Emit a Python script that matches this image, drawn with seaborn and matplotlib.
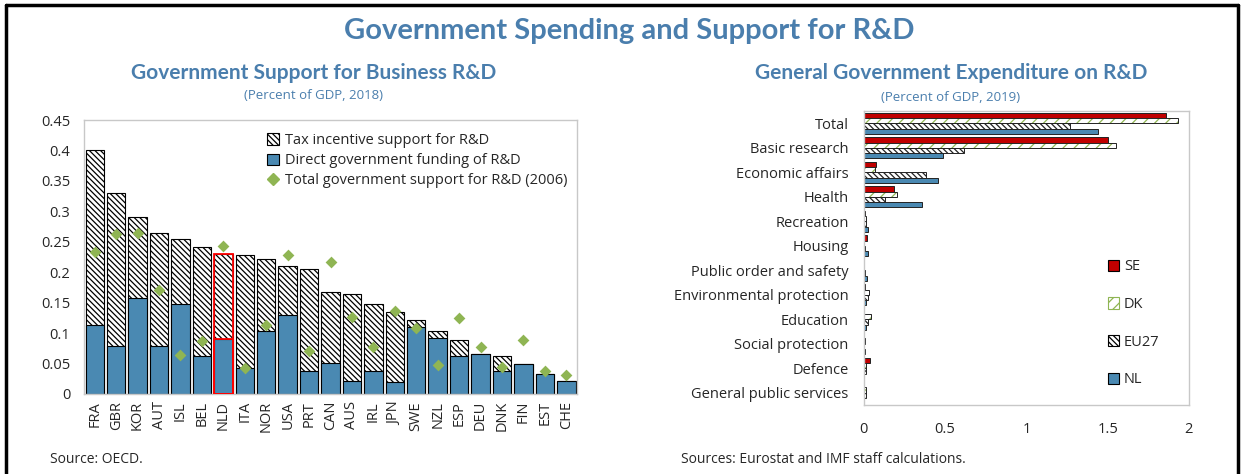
import matplotlib
matplotlib.use("Agg")
import matplotlib.pyplot as plt
from matplotlib.patches import Patch, Rectangle
from matplotlib.lines import Line2D
import seaborn as sns
import pandas as pd

# ---- dados: painel esquerdo (OECD, 2018)
paises = ['FRA', 'GBR', 'KOR', 'AUT', 'ISL', 'BEL', 'NLD', 'ITA', 'NOR', 'USA', 'PRT', 'CAN',
          'AUS', 'IRL', 'JPN', 'SWE', 'NZL', 'ESP', 'DEU', 'DNK', 'FIN', 'EST', 'CHE']
direto = [0.114, 0.079, 0.157, 0.079, 0.147, 0.062, 0.090, 0.043, 0.104, 0.129, 0.038, 0.051,
          0.022, 0.038, 0.020, 0.110, 0.092, 0.062, 0.066, 0.038, 0.049, 0.033, 0.022]
incentivo = [0.287, 0.251, 0.133, 0.186, 0.107, 0.179, 0.140, 0.185, 0.117, 0.081, 0.168, 0.117,
             0.143, 0.109, 0.115, 0.012, 0.012, 0.027, 0.0, 0.025, 0.0, 0.0, 0.0]
total_2006 = [0.234, 0.263, 0.265, 0.170, 0.064, 0.087, 0.243, 0.043, 0.114, 0.229, 0.071, 0.216,
              0.126, 0.078, 0.136, 0.109, 0.048, 0.125, 0.077, 0.045, 0.088, 0.037, 0.031]

# ---- dados: painel direito (Eurostat, 2019)
funcoes = ['Total', 'Basic research', 'Economic affairs', 'Health', 'Recreation', 'Housing',
           'Public order and safety', 'Environmental protection', 'Education',
           'Social protection', 'Defence', 'General public services']
se = [1.86, 1.50, 0.074, 0.185, 0.005, 0.020, 0.003, 0.005, 0.003, 0.003, 0.040, 0.0]
dk = [1.93, 1.55, 0.070, 0.204, 0.015, 0.0, 0.003, 0.030, 0.045, 0.005, 0.015, 0.010]
eu27 = [1.27, 0.615, 0.380, 0.130, 0.010, 0.005, 0.005, 0.025, 0.025, 0.003, 0.010, 0.010]
nl = [1.44, 0.485, 0.455, 0.356, 0.028, 0.025, 0.020, 0.015, 0.010, 0.005, 0.002, 0.002]
grupos = ['SE', 'DK', 'EU27', 'NL']

AZUL = '#4A89B2'
VERDE = '#8FB553'
VERMELHO = '#C00000'
TITULO = '#4A7EAD'
CINZA = '#C8C8C8'
HACHURA = '\\' * 6

sns.set_style("white")
plt.rcParams['font.family'] = ['Open Sans', 'DejaVu Sans']
plt.rcParams['hatch.linewidth'] = 0.9

fig = plt.figure(figsize=(12.43, 4.74), dpi=100)

# ---- painel esquerdo
ax1 = fig.add_axes([0.0676, 0.1688, 0.3966, 0.578])
df1 = pd.DataFrame({'pais': paises, 'direto': direto, 'incentivo': incentivo, 'ant': total_2006})
df1['total'] = df1['direto'] + df1['incentivo']

sns.barplot(data=df1, x='pais', y='total', color='white', saturation=1, width=0.86,
            edgecolor='black', linewidth=0.8, hatch=HACHURA, ax=ax1)
sns.barplot(data=df1, x='pais', y='direto', color=AZUL, saturation=1, width=0.86,
            edgecolor='black', linewidth=0.8, ax=ax1)
sns.stripplot(data=df1, x='pais', y='ant', jitter=False, marker='D', color=VERDE, size=6,
              linewidth=0, ax=ax1, zorder=5)

# destaque NLD: contorno vermelho por cima (a hachura continua preta)
i_nld = paises.index('NLD')
for cont in ax1.containers:
    p = cont.patches[i_nld]
    ax1.add_patch(Rectangle(p.get_xy(), p.get_width(), p.get_height(), fill=False,
                            edgecolor='red', lw=1.3, zorder=4))

ax1.set_xlim(-0.5, len(paises) - 0.5)
ax1.set_ylim(0, 0.45)
ax1.set_yticks([0, 0.05, 0.1, 0.15, 0.2, 0.25, 0.3, 0.35, 0.4, 0.45])
ax1.set_yticklabels(['0', '0.05', '0.1', '0.15', '0.2', '0.25', '0.3', '0.35', '0.4', '0.45'])
ax1.set_xlabel('')
ax1.set_ylabel('')
ax1.tick_params(axis='x', labelrotation=90, labelsize=10.5, length=0, pad=5)
ax1.tick_params(axis='y', labelsize=10.5, length=0, pad=10)
for s in ax1.spines.values():
    s.set_color(CINZA)
    s.set_linewidth(1)

h1 = [Patch(facecolor='white', edgecolor='black', hatch=HACHURA, lw=0.8),
      Patch(facecolor=AZUL, edgecolor='black', lw=0.8),
      Line2D([], [], marker='D', color=VERDE, ls='', markersize=6)]
ax1.legend(h1, ['Tax incentive support for R&D', 'Direct government funding of R&D',
                'Total government support for R&D (2006)'],
           loc='upper left', bbox_to_anchor=(0.345, 1.0), frameon=False, fontsize=10.5,
           handlelength=0.8, handleheight=0.8, handletextpad=0.4, labelspacing=0.35)

# ---- painel direito
ax2 = fig.add_axes([0.695, 0.1456, 0.2615, 0.620])
df2 = pd.DataFrame({'funcao': funcoes, 'SE': se, 'DK': dk, 'EU27': eu27, 'NL': nl})
df2 = df2.melt(id_vars='funcao', var_name='grupo', value_name='valor')

sns.barplot(data=df2, y='funcao', x='valor', hue='grupo', hue_order=grupos, orient='h',
            palette={'SE': VERMELHO, 'DK': 'white', 'EU27': 'white', 'NL': AZUL},
            saturation=1, width=0.86, edgecolor='#222222', linewidth=0.7, ax=ax2, legend=False)

for g, cont in zip(grupos, ax2.containers):
    for p in cont.patches:
        if g == 'DK':
            p.set_hatch('///')
            p.set_edgecolor(VERDE)
            p.set_linewidth(0)
            ax2.add_patch(Rectangle(p.get_xy(), p.get_width(), p.get_height(), fill=False,
                                    edgecolor='#222222', lw=0.7, zorder=p.get_zorder() + 0.1))
        elif g == 'EU27':
            p.set_hatch(HACHURA)

ax2.set_xlim(0, 2)
ax2.set_ylim(len(funcoes) - 0.5, -0.5)
ax2.set_xticks([0, 0.5, 1, 1.5, 2])
ax2.set_xticklabels(['0', '0.5', '1', '1.5', '2'])
ax2.set_xlabel('')
ax2.set_ylabel('')
ax2.tick_params(axis='x', labelsize=10.5, direction='in', length=4, color=CINZA, pad=12)
ax2.tick_params(axis='y', labelsize=10.5, length=0, pad=11)
for s in ax2.spines.values():
    s.set_color(CINZA)
    s.set_linewidth(1)

h2 = [Patch(facecolor=VERMELHO, edgecolor='black', lw=0.8),
      Patch(facecolor='white', edgecolor=VERDE, hatch='///', lw=0.8),
      Patch(facecolor='white', edgecolor='black', hatch=HACHURA, lw=0.8),
      Patch(facecolor=AZUL, edgecolor='black', lw=0.8)]
ax2.legend(h2, grupos, loc='upper left', bbox_to_anchor=(0.71, 0.54), frameon=False,
           fontsize=10.5, handlelength=0.8, handleheight=0.8, handletextpad=0.3,
           labelspacing=1.55)

# ---- títulos e fontes
fig.text(0.506, 0.935, 'Government Spending and Support for R&D', ha='center', va='center',
         fontsize=21, fontweight='bold', color=TITULO, family=['Lato', 'DejaVu Sans'])
fig.text(0.252, 0.845, 'Government Support for Business R&D', ha='center', va='center',
         fontsize=15, fontweight='bold', color=TITULO, family=['Lato', 'DejaVu Sans'])
fig.text(0.252, 0.798, '(Percent of GDP, 2018)', ha='center', va='center',
         fontsize=9.5, color=TITULO)
fig.text(0.765, 0.845, 'General Government Expenditure on R&D', ha='center', va='center',
         fontsize=15, fontweight='bold', color=TITULO, family=['Lato', 'DejaVu Sans'])
fig.text(0.765, 0.795, '(Percent of GDP, 2019)', ha='center', va='center',
         fontsize=9.5, color=TITULO)
fig.text(0.040, 0.030, 'Source: OECD.', ha='left', va='center', fontsize=10)
fig.text(0.548, 0.030, 'Sources: Eurostat and IMF staff calculations.', ha='left',
         va='center', fontsize=10)

# moldura preta
for xs, ys in [([0.005, 0.005], [0.0, 0.99]), ([0.005, 0.996], [0.99, 0.99]),
               ([0.996, 0.996], [0.0, 0.99])]:
    fig.add_artist(Line2D(xs, ys, color='black', lw=2.5, transform=fig.transFigure))

fig.savefig('out.png', dpi=100, facecolor='white')
